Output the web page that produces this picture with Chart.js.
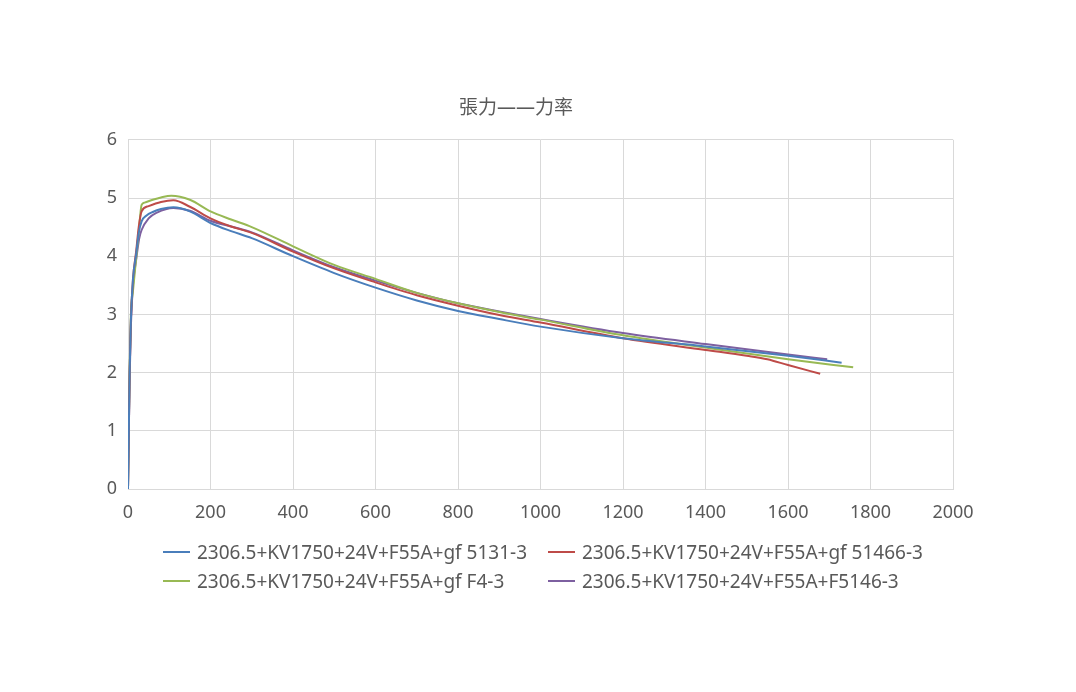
<!DOCTYPE html>
<html>
<head>
<meta charset="utf-8">
<script src="https://cdn.jsdelivr.net/npm/chart.js@4.4.0/dist/chart.umd.min.js"></script>
<style>
  html, body { margin: 0; padding: 0; background: #fff; }
  #wrap { position: relative; width: 1076px; height: 692px; }
  #c { position: absolute; left: 0; top: 0; }
  .leg { position: absolute; font-family: "Noto Sans", "Noto Sans CJK SC", sans-serif; font-size: 19px; color: #595959; white-space: nowrap; line-height: 22px; }
  .leg span.ln { position: absolute; top: 10px; width: 27px; height: 2px; }
  .leg span.tx { position: absolute; left: 34px; top: 0; }
</style>
</head>
<body>
<div id="wrap">
  <canvas id="c" width="1076" height="692"></canvas>
  <div id="legend"></div>
</div>
<script>
const chartTitle = "張力——力率";
const seriesNames = [
  "2306.5+KV1750+24V+F55A+gf 5131-3",
  "2306.5+KV1750+24V+F55A+gf 51466-3",
  "2306.5+KV1750+24V+F55A+gf F4-3",
  "2306.5+KV1750+24V+F55A+F5146-3"
];
const seriesColors = ["#4A7EBB", "#BE4B48", "#98B954", "#7D60A0"];

const xTicks = [0, 200, 400, 600, 800, 1000, 1200, 1400, 1600, 1800, 2000];
const yTicks = [0, 1, 2, 3, 4, 5, 6];

// Series 1: gf 5131-3 (blue)
const blueX = [0, 2, 4, 7, 12, 20, 26, 33, 45, 60, 80, 110, 150, 200, 250, 300, 400, 500, 600, 700, 800, 900, 1000, 1200, 1400, 1600, 1730];
const blueY = [0, 1.0, 2.0, 2.9, 3.6, 4.05, 4.4, 4.6, 4.7, 4.76, 4.81, 4.84, 4.77, 4.57, 4.43, 4.31, 4.0, 3.71, 3.46, 3.24, 3.06, 2.92, 2.79, 2.59, 2.45, 2.29, 2.17];

// Series 2: gf 51466-3 (red)
const redX = [0, 2, 4, 7, 12, 20, 26, 33, 50, 80, 110, 150, 200, 250, 300, 400, 500, 600, 700, 800, 900, 1000, 1200, 1400, 1500, 1550, 1600, 1678];
const redY = [0, 1.0, 2.0, 2.9, 3.6, 4.1, 4.5, 4.77, 4.86, 4.93, 4.96, 4.85, 4.65, 4.51, 4.40, 4.08, 3.79, 3.55, 3.33, 3.15, 2.99, 2.86, 2.59, 2.39, 2.29, 2.23, 2.13, 1.98];

// Series 3: gf F4-3 (green)
const greenX = [0, 2, 4, 7, 12, 20, 26, 33, 40, 60, 80, 105, 150, 200, 250, 300, 400, 500, 600, 700, 800, 900, 1000, 1200, 1400, 1600, 1758];
const greenY = [0, 1.1, 2.1, 3.0, 3.4, 3.98, 4.42, 4.88, 4.92, 4.97, 5.01, 5.04, 4.97, 4.77, 4.63, 4.50, 4.17, 3.85, 3.61, 3.37, 3.19, 3.04, 2.91, 2.64, 2.43, 2.23, 2.09];

// Series 4: F5146-3 (purple)
const purpleX = [0, 2, 4, 7, 12, 20, 27, 33, 50, 70, 110, 150, 200, 250, 300, 400, 500, 600, 700, 800, 900, 1000, 1200, 1400, 1600, 1695];
const purpleY = [0, 1.0, 1.9, 2.8, 3.5, 3.95, 4.3, 4.45, 4.65, 4.75, 4.83, 4.78, 4.61, 4.51, 4.41, 4.10, 3.81, 3.58, 3.37, 3.19, 3.05, 2.92, 2.68, 2.49, 2.31, 2.23];

const allX = [blueX, redX, greenX, purpleX];
const allY = [blueY, redY, greenY, purpleY];

const FONT = "'Noto Sans', 'Noto Sans CJK SC', sans-serif";
const TXT = "#595959";
const GRID = "#D9D9D9";

const datasets = seriesNames.map((name, i) => ({
  label: name,
  data: allX[i].map((x, j) => ({ x: x, y: allY[i][j] })),
  borderColor: seriesColors[i],
  backgroundColor: seriesColors[i],
  borderWidth: 2,
  pointRadius: 0,
  cubicInterpolationMode: 'monotone',
  fill: false
}));

new Chart(document.getElementById('c'), {
  type: 'line',
  data: { datasets: datasets },
  options: {
    responsive: false,
    animation: false,
    devicePixelRatio: 1,
    layout: { padding: { left: 79, right: 123, top: 0, bottom: 163 } },
    plugins: {
      legend: { display: false },
      tooltip: { enabled: false },
      title: {
        display: true,
        text: chartTitle,
        color: TXT,
        font: { family: FONT, size: 19, weight: 'normal', lineHeight: 1.2 },
        padding: { top: 97, bottom: 20 }
      }
    },
    scales: {
      x: {
        type: 'linear',
        min: 0, max: 2000,
        afterBuildTicks: (s) => { s.ticks = xTicks.map(v => ({ value: v })); },
        afterFit: (s) => { s.height = 40; },
        ticks: { color: TXT, font: { family: FONT, size: 18 }, padding: 13, maxRotation: 0, autoSkip: false, callback: (v) => String(v) },
        grid: { color: GRID, lineWidth: 1, drawTicks: false },
        border: { color: GRID, width: 1 }
      },
      y: {
        type: 'linear',
        min: 0, max: 6,
        afterBuildTicks: (s) => { s.ticks = yTicks.map(v => ({ value: v })); },
        afterFit: (s) => { s.width = 49; },
        ticks: { color: TXT, font: { family: FONT, size: 18 }, padding: 11, autoSkip: false, callback: (v) => String(v) },
        grid: { color: GRID, lineWidth: 1, drawTicks: false },
        border: { display: false }
      }
    }
  }
});

// HTML legend (two aligned columns, as in the reference)
const legPos = [[163, 541], [548, 541], [163, 570], [548, 570]];
const legend = document.getElementById('legend');
seriesNames.forEach((name, i) => {
  const d = document.createElement('div');
  d.className = 'leg';
  d.style.left = legPos[i][0] + 'px';
  d.style.top = legPos[i][1] + 'px';
  const ln = document.createElement('span');
  ln.className = 'ln';
  ln.style.background = seriesColors[i];
  const tx = document.createElement('span');
  tx.className = 'tx';
  tx.textContent = name;
  d.appendChild(ln);
  d.appendChild(tx);
  legend.appendChild(d);
});
</script>
</body>
</html>
